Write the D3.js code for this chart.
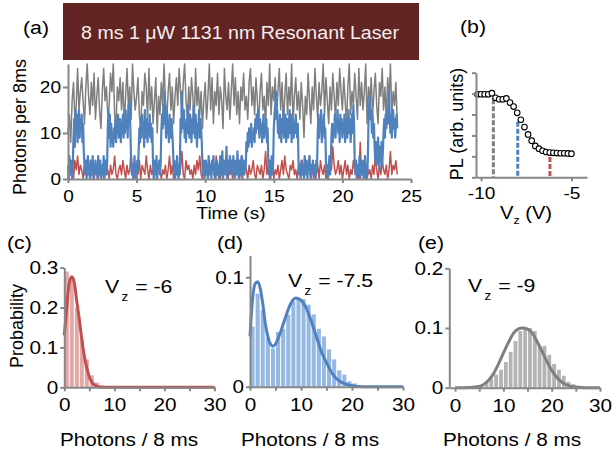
<!DOCTYPE html>
<html>
<head>
<meta charset="utf-8">
<script src="https://cdn.jsdelivr.net/npm/d3@7"></script>
<style>
  body { margin: 0; background: #fff; }
  svg { display: block; }
</style>
</head>
<body>
<svg id="fig" width="616" height="454"></svg>
<script>
// (a) photon counts per 8 ms bin; gray and red sampled every 0.1 s, blue every 0.05 s (one row = 1 s)
const grayStep = 0.1
const grayTrace = [
  10, 14, 8, 17, 21, 13, 16, 24, 15, 19,
  22, 17, 12, 20, 25, 18, 14, 21, 16, 23,
  13, 18, 22, 15, 11, 19, 24, 17, 20, 14,
  16, 23, 19, 25, 14, 12, 20, 17, 22, 15,
  21, 12, 18, 24, 16, 20, 13, 25, 19, 15,
  18, 22, 14, 11, 19, 16, 23, 20, 13, 24,
  15, 20, 12, 17, 22, 10, 18, 14, 21, 16,
  25, 17, 13, 19, 23, 15, 20, 12, 18, 22,
  16, 24, 19, 14, 21, 25, 17, 13, 20, 15,
  22, 18, 12, 24, 16, 20, 14, 19, 11, 17,
  21, 13, 18, 25, 15, 22, 12, 19, 16, 23,
  14, 20, 17, 11, 24, 18, 15, 21, 13, 19,
  25, 16, 22, 14, 19, 12, 20, 17, 23, 15,
  18, 13, 21, 24, 16, 20, 14, 22, 17, 12,
  19, 23, 15, 18, 11, 21, 16, 25, 14, 20,
  17, 22, 13, 19, 24, 15, 21, 12, 18, 23,
  14, 20, 16, 25, 12, 18, 22, 15, 19, 13,
  21, 16, 9, 18, 14, 23, 17, 12, 20, 15,
  24, 18, 13, 21, 16, 19, 25, 14, 22, 17,
  12, 20, 15, 23, 18, 13, 21, 16, 24, 19,
  15, 22, 17, 12, 20, 25, 14, 19, 16, 23,
  18, 13, 24, 16, 21, 15, 19, 25, 12, 20,
  17, 22, 14, 19, 23, 16, 12, 21, 18, 24,
  15, 20, 13, 22, 17, 25, 14, 19, 16, 21,
  12
]
const blueStep = 0.05
const blueTrace = [
  3, 0, 5, 1, 4, 2, 0, 3, 9, 13, 7, 15, 10, 14, 8, 12, 15, 9, 13, 11,
  14, 8, 12, 6, 3, 1, 4, 0, 2, 5, 1, 3, 0, 4, 2, 1, 5, 0, 3, 2,
  4, 1, 3, 0, 5, 2, 1, 4, 0, 2, 3, 1, 5, 0, 2, 4, 1, 3, 11, 15,
  9, 14, 7, 12, 8, 10, 7, 11, 9, 13, 8, 12, 10, 14, 9, 11, 13, 8, 12, 10,
  14, 9, 12, 10, 15, 11, 13, 9, 16, 12, 17, 10, 4, 1, 3, 0, 2, 5, 1, 3,
  0, 4, 2, 6, 11, 8, 13, 9, 14, 10, 12, 7, 15, 11, 9, 13, 8, 12, 10, 14,
  9, 12, 8, 11, 3, 0, 4, 2, 1, 5, 0, 3, 2, 4, 1, 3, 10, 14, 11, 16,
  12, 19, 13, 9, 15, 10, 12, 8, 14, 11, 9, 13, 10, 7, 2, 4, 0, 3, 1, 5,
  2, 0, 3, 1, 13, 10, 19, 14, 11, 15, 9, 12, 8, 13, 10, 16, 11, 9, 14, 12,
  8, 13, 10, 16, 12, 9, 14, 11, 7, 12, 10, 15, 9, 13, 11, 8, 3, 1, 4, 0,
  2, 4, 1, 3, 0, 5, 2, 1, 3, 0, 4, 2, 5, 1, 3, 0, 2, 4, 1, 3,
  0, 3, 5, 1, 2, 6, 0, 4, 2, 1, 3, 7, 2, 0, 4, 1, 5, 3, 2, 4,
  1, 5, 2, 0, 3, 4, 1, 6, 2, 0, 4, 1, 3, 5, 0, 2, 4, 1, 3, 2,
  8, 6, 10, 7, 11, 9, 8, 12, 7, 10, 9, 11, 8, 13, 10, 14, 11, 15, 12, 9,
  13, 10, 12, 8, 11, 14, 9, 12, 10, 13, 8, 11, 3, 1, 4, 0, 2, 5, 1, 3,
  11, 14, 16, 19, 13, 15, 10, 12, 9, 14, 11, 8, 13, 10, 15, 9, 12, 14, 8, 11,
  13, 9, 12, 15, 10, 14, 8, 11, 13, 9, 12, 10, 14, 11, 9, 12, 4, 1, 3, 0,
  2, 4, 1, 3, 0, 5, 2, 1, 4, 0, 3, 2, 5, 1, 0, 3, 2, 4, 1, 2,
  3, 0, 4, 2, 10, 14, 9, 13, 11, 15, 8, 12, 10, 14, 9, 11, 4, 1, 3, 0,
  2, 5, 1, 3, 9, 12, 8, 11, 10, 14, 9, 13, 11, 15, 10, 12, 8, 14, 11, 13,
  9, 12, 10, 14, 8, 13, 11, 9, 12, 15, 10, 13, 8, 11, 14, 10, 16, 12, 3, 1,
  4, 0, 2, 3, 1, 5, 0, 2, 4, 1, 3, 0, 2, 5, 1, 3, 0, 4, 12, 16,
  18, 13, 15, 10, 14, 9, 12, 7, 4, 8, 3, 6, 9, 5, 2, 7, 4, 8, 3, 6,
  10, 13, 9, 14, 11, 15, 12, 16, 19, 13, 10, 14, 9, 12, 15, 11, 13, 9, 12, 14,
  11
]
const redStep = 0.1
const redTrace = [
  0, 2, 1, 3, 0, 4, 2, 5, 1, 3,
  2, 0, 3, 1, 4, 2, 0, 1, 3, 0,
  2, 1, 0, 3, 1, 2, 0, 4, 1, 2,
  0, 3, 1, 2, 5, 1, 0, 2, 3, 1,
  4, 2, 0, 3, 1, 2, 6, 1, 3, 0,
  2, 1, 4, 0, 3, 2, 1, 5, 2, 0,
  3, 1, 2, 0, 4, 1, 3, 2, 0, 2,
  1, 3, 0, 2, 5, 1, 3, 0, 2, 4,
  1, 3, 2, 6, 1, 0, 4, 2, 3, 1,
  2, 0, 3, 1, 4, 2, 5, 1, 0, 3,
  1, 2, 0, 4, 1, 3, 2, 0, 5, 1,
  3, 0, 2, 1, 4, 2, 0, 3, 1, 2,
  0, 4, 1, 2, 3, 0, 2, 5, 1, 3,
  2, 0, 3, 1, 2, 4, 1, 0, 3, 2,
  1, 3, 0, 2, 6, 1, 3, 0, 2, 4,
  0, 2, 1, 3, 0, 2, 4, 1, 5, 2,
  1, 0, 3, 2, 4, 1, 2, 0, 3, 1,
  4, 2, 0, 3, 1, 2, 5, 1, 3, 0,
  2, 1, 3, 0, 4, 2, 1, 3, 0, 2,
  1, 4, 2, 7, 3, 1, 2, 4, 1, 3,
  0, 2, 4, 1, 3, 0, 2, 1, 4, 2,
  1, 3, 0, 8, 1, 4, 2, 0, 3, 1,
  2, 0, 3, 1, 5, 2, 0, 3, 1, 4,
  2, 1, 3, 0, 2, 6, 1, 3, 2, 4,
  1
]
const timeTicks = [0, 5, 10, 15, 20, 25]
const countTicks = [0, 10, 20]

// (b) PL vs gate voltage
const gateV = [-10.2, -10, -9.8, -9.6, -9.4, -9.2, -9.0, -8.8, -8.6, -8.4, -8.2, -8.0, -7.8, -7.6,
  -7.4, -7.2, -7.0, -6.8, -6.6, -6.4, -6.2, -6.0, -5.8, -5.6, -5.4, -5.2, -5.0]
const plSignal = [3.97, 3.97, 3.97, 3.97, 4.02, 3.8, 3.73, 3.73, 3.77, 3.57, 3.38, 3.08, 2.75, 2.4,
  2.05, 1.75, 1.5, 1.37, 1.27, 1.21, 1.18, 1.17, 1.16, 1.15, 1.15, 1.14, 1.13]
const markerV = [-9.32, -7.97, -6.19]
const markerTop = [3.73, 2.66, 1.3]
const gateTicks = [-10, -5]

// (c)-(e) photon count histograms, bins of 1 photon starting at 0
const histC = [0.29, 0.27, 0.2, 0.12, 0.07, 0.03, 0.012, 0.005, 0.002]
const histD = [0.055, 0.085, 0.07, 0.045, 0.035, 0.05, 0.053, 0.066, 0.078, 0.081, 0.08, 0.075,
  0.066, 0.053, 0.046, 0.034, 0.025, 0.015, 0.011, 0.005, 0.003, 0.001]
const histE = [0, 0, 0.003, 0.002, 0.002, 0.005, 0.008, 0.015, 0.022, 0.03, 0.043, 0.06, 0.078,
  0.095, 0.1, 0.1, 0.095, 0.07, 0.07, 0.055, 0.04, 0.03, 0.02, 0.01, 0.006, 0.003, 0.001]

// fitted curves
const fitCx = [0, 0.5, 1, 1.5, 2, 2.5, 3, 3.5, 4, 4.5, 5, 5.5, 6, 7, 8, 10, 30]
const fitCy = [0.13, 0.2, 0.262, 0.277, 0.262, 0.215, 0.17, 0.12, 0.078, 0.048, 0.026, 0.013, 0.006, 0.001, 0, 0, 0]
const fitDx = [0, 0.5, 1, 1.5, 2, 2.5, 3, 3.5, 4, 4.5, 5, 5.5, 6, 7, 8, 9, 10, 11, 12, 13, 14, 15, 16, 17, 18, 19, 20, 22, 30]
const fitDy = [0.046, 0.08, 0.094, 0.096, 0.09, 0.076, 0.058, 0.046, 0.039, 0.037, 0.039, 0.044, 0.05, 0.064, 0.076,
  0.081, 0.079, 0.072, 0.06, 0.046, 0.032, 0.022, 0.013, 0.007, 0.004, 0.002, 0.001, 0, 0]
const fitEx = [0, 3, 5, 6, 7, 8, 9, 10, 11, 12, 13, 14, 15, 16, 17, 18, 19, 20, 21, 22, 23, 24, 25, 27, 30]
const fitEy = [0, 0.0005, 0.002, 0.006, 0.013, 0.024, 0.04, 0.058, 0.075, 0.09, 0.098, 0.1, 0.098, 0.091, 0.077,
  0.061, 0.044, 0.029, 0.018, 0.01, 0.005, 0.002, 0.001, 0, 0]
const photonTicks = [0, 5, 10, 15, 20, 25, 30]

const FONT = "'Liberation Sans', Arial, sans-serif"
const AXIS = '#878787'
const RED = '#c0504d', BLUE = '#4f81bd', GRAY = '#7f7f7f'
const SX = 1.12 // text in the figure is a bit wider than plain Arial

let svg = d3.select('#fig').attr('font-family', FONT)

let widen = sel => sel.each(function () {
  let t = d3.select(this), x = +t.attr('x') || 0
  t.attr('transform', `translate(${x},0) scale(${SX},1) translate(${-x},0)`)
})

let paint = (g, size) => {
  g.attr('font-family', FONT)
  g.select('.domain').attr('stroke', AXIS).attr('stroke-width', 2)
  g.selectAll('.tick line').attr('stroke', AXIS).attr('stroke-width', 2)
  g.selectAll('.tick text').attr('fill', '#000').attr('font-size', size).call(widen)
}

let label = (txt, x, y, size, opts = {}) => {
  let t = svg.append('text')
    .attr('x', x).attr('y', y)
    .attr('font-size', size)
    .attr('text-anchor', opts.anchor || 'middle')
    .attr('fill', opts.fill || '#000')
    .text(txt)
  if (opts.rotate) t.attr('transform', `rotate(-90,${x},${y})`)
  else t.call(widen)
  return t
}

// ---------- (a) ----------
let xa = d3.scaleLinear().domain([0, 25]).range([68, 411])
let ya = d3.scaleLinear().domain([0, 25]).range([179, 64])

svg.append('rect')
  .attr('x', 63).attr('y', 3).attr('width', 356).attr('height', 57)
  .attr('fill', '#632523')
label('8 ms 1 μW 1131 nm Resonant Laser', 240, 39, 17.5, { fill: '#f4eeee' })

let traceLine = step => d3.line()
  .x((d, i) => xa(i * step))
  .y(d => ya(d))

;[[grayTrace, grayStep, GRAY, 1.5], [redTrace, redStep, RED, 1.5], [blueTrace, blueStep, BLUE, 2.2]]
  .forEach(([data, step, color, w]) => {
    svg.append('path')
      .datum(data)
      .attr('d', traceLine(step))
      .attr('fill', 'none')
      .attr('stroke', color)
      .attr('stroke-width', w)
      .attr('stroke-linejoin', 'round')
  })

svg.append('g')
  .attr('transform', 'translate(68,0)')
  .call(d3.axisLeft(ya).tickValues(countTicks).tickSize(5).tickSizeOuter(0).tickPadding(2))
  .call(g => paint(g, 17))
svg.append('g')
  .attr('transform', 'translate(0,179)')
  .call(d3.axisBottom(xa).tickValues(timeTicks).tickSize(4).tickSizeOuter(0).tickPadding(7))
  .call(g => paint(g, 17))

label('(a)', 23, 34, 19, { anchor: 'start' })
label('Photons per 8ms', 26, 127, 18, { rotate: true })
label('Time (s)', 231, 219, 17)

// ---------- (b) ----------
let xb = d3.scaleLinear().domain([-10.28, -4.14]).range([476, 587])
let yb = d3.scaleLinear().domain([0, 5]).range([177.3, 72.7])

markerV.forEach((v, i) => {
  svg.append('line')
    .attr('x1', xb(v)).attr('x2', xb(v))
    .attr('y1', yb(markerTop[i])).attr('y2', yb(0))
    .attr('stroke', [GRAY, BLUE, RED][i])
    .attr('stroke-width', 3)
    .attr('stroke-dasharray', '5,2')
})

svg.append('g')
  .selectAll('circle')
  .data(gateV)
  .enter().append('circle')
  .attr('cx', d => xb(d))
  .attr('cy', (d, i) => yb(plSignal[i]))
  .attr('r', 2.8)
  .attr('fill', '#fff')
  .attr('stroke', '#000')
  .attr('stroke-width', 1.1)

svg.append('g')
  .attr('transform', 'translate(476,0)')
  .call(d3.axisLeft(yb).tickValues([0, 1, 2, 3, 4, 5]).tickFormat('').tickSize(4).tickSizeOuter(0))
  .call(g => paint(g, 17))
svg.append('g')
  .attr('transform', 'translate(0,177.3)')
  .call(d3.axisBottom(xb).tickValues(gateTicks).tickFormat(d => String(d)).tickSize(4).tickSizeOuter(0).tickPadding(6))
  .call(g => paint(g, 17))

label('(b)', 460, 33, 19, { anchor: 'start' })
label('PL (arb. units)', 463, 124, 18, { rotate: true })
let vz = label('V', 500, 219, 18, { anchor: 'start' })
vz.append('tspan').attr('font-size', 11).attr('dy', 5).text('z')
vz.append('tspan').attr('dy', -5).text(' (V)')

// ---------- (c)-(e) ----------
let panels = [
  { hist: histC, fx: fitCx, fy: fitCy, color: RED, bar: '#e3a9a8', x0: 0, xr: [64.3, 214.5],
    yd: [0, 0.3], yr: [387.3, 267.6], yt: [0, 0.1, 0.2, 0.3], tag: '(c)', tagX: 7, vz: '-6', vzX: 105, vzY: 293, title: 129 },
  { hist: histD, fx: fitDx, fy: fitDy, color: BLUE, bar: '#96b9e4', x0: 0, xr: [250, 403],
    yd: [0, 0.12], yr: [386.7, 255.4], yt: [0, 0.1], tag: '(d)', tagX: 217, vz: '-7.5', vzX: 288, vzY: 287, title: 310 },
  { hist: histE, fx: fitEx, fy: fitEy, color: GRAY, bar: '#b4b4b4', x0: -1.2, xr: [449.3, 600],
    yd: [0, 0.2], yr: [387.7, 268.3], yt: [0, 0.1, 0.2], tag: '(e)', tagX: 418, vz: '-9', vzX: 468, vzY: 292, title: 512 }
]

panels.forEach(p => {
  let x = d3.scaleLinear().domain([p.x0, 30]).range(p.xr)
  let y = d3.scaleLinear().domain(p.yd).range(p.yr)

  svg.append('g')
    .selectAll('rect')
    .data(p.hist)
    .enter().append('rect')
    .attr('x', (d, i) => x(i) + 0.5)
    .attr('width', (d, i) => x(i + 1) - x(i) - 1)
    .attr('y', d => y(d))
    .attr('height', d => y(0) - y(d))
    .attr('fill', p.bar)

  let fit = d3.line()
    .x((d, i) => x(p.fx[i]))
    .y(d => y(d))
    .curve(d3.curveMonotoneX)
  svg.append('path')
    .datum(p.fy)
    .attr('d', fit)
    .attr('fill', 'none')
    .attr('stroke', p.color)
    .attr('stroke-width', 3)

  svg.append('g')
    .attr('transform', `translate(${p.xr[0]},0)`)
    .call(d3.axisLeft(y).tickValues(p.yt).tickFormat(d => d === 0 ? '0' : d3.format('.1f')(d))
      .tickSize(4).tickSizeOuter(0).tickPadding(2))
    .call(g => paint(g, 18.5))
  svg.append('g')
    .attr('transform', `translate(0,${p.yr[0]})`)
    .call(d3.axisBottom(x).tickValues(photonTicks).tickFormat(d => d % 10 === 0 ? d : '')
      .tickSize(4).tickSizeOuter(0).tickPadding(7))
    .call(g => paint(g, 18.5))

  label(p.tag, p.tagX, 249, 19, { anchor: 'start' })
  let t = label('V', p.vzX, p.vzY, 19, { anchor: 'start' })
  t.append('tspan').attr('font-size', 12).attr('dx', 2).attr('dy', 8).text('z')
  t.append('tspan').attr('dx', 1).attr('dy', -8).text(' = ' + p.vz)
  label('Photons / 8 ms', p.title, 446, 18.5)
})

label('Probability', 23, 326, 18, { rotate: true })
</script>
</body>
</html>
